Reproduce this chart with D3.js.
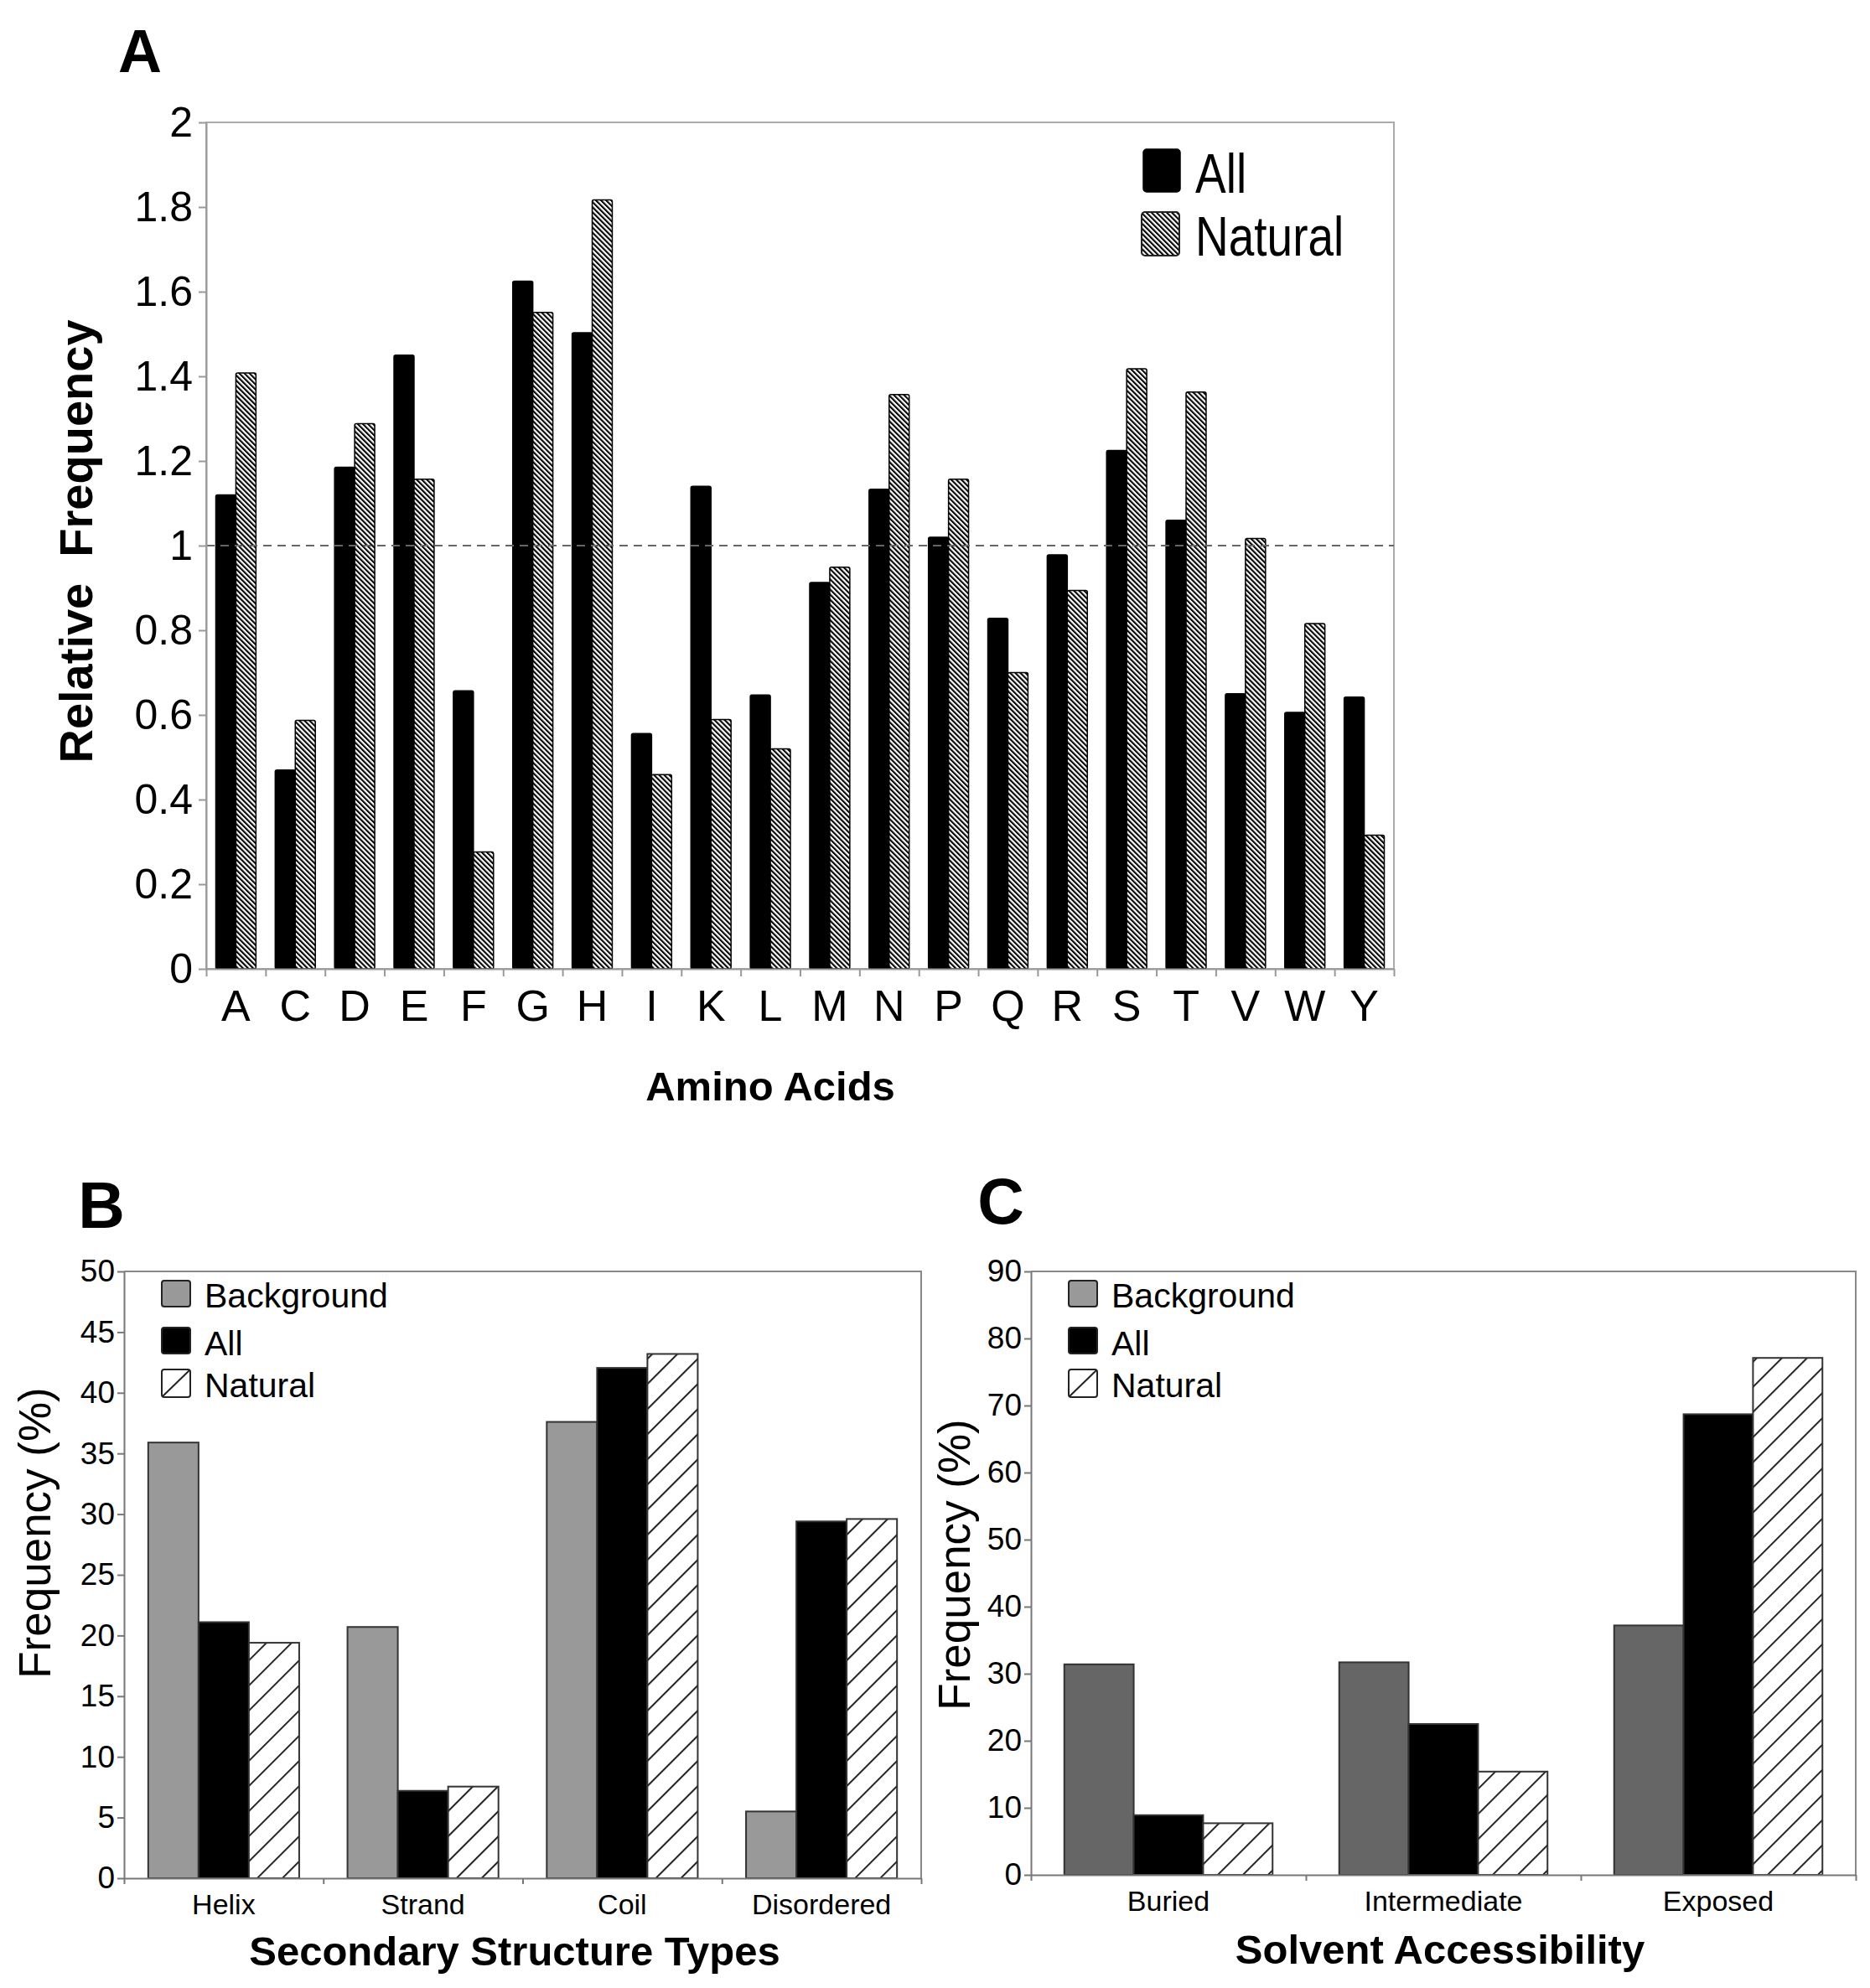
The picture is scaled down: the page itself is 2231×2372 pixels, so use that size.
<!DOCTYPE html>
<html>
<head>
<meta charset="utf-8">
<script src="https://cdn.jsdelivr.net/npm/d3@7"></script>
<style>
  body { margin: 0; background: #fff; }
  svg { display: block; font-family: "Liberation Sans", Arial, sans-serif; }
</style>
</head>
<body>
<script>
const width = 2231;
const height = 2372;

// panel A: relative frequency per amino acid
const aminoAcids = ["A", "C", "D", "E", "F", "G", "H", "I", "K", "L", "M", "N", "P", "Q", "R", "S", "T", "V", "W", "Y"];
const aaAll = [1.12, 0.47, 1.185, 1.45, 0.657, 1.625, 1.503, 0.556, 1.14, 0.647, 0.913, 1.133, 1.02, 0.828, 0.978, 1.225, 1.06, 0.65, 0.606, 0.642];
const aaNatural = [1.408, 0.587, 1.288, 1.157, 0.276, 1.551, 1.817, 0.459, 0.589, 0.52, 0.949, 1.357, 1.157, 0.7, 0.894, 1.418, 1.363, 1.017, 0.816, 0.316];
const aaTicks = [0, 0.2, 0.4, 0.6, 0.8, 1, 1.2, 1.4, 1.6, 1.8, 2];

// panel B: secondary structure types
const ssTypes = ["Helix", "Strand", "Coil", "Disordered"];
const ssBackground = [35.9, 20.7, 37.6, 5.5];
const ssAll = [21.1, 7.2, 42.05, 29.4];
const ssNatural = [19.4, 7.55, 43.2, 29.6];
const ssTicks = [0, 5, 10, 15, 20, 25, 30, 35, 40, 45, 50];

// panel C: solvent accessibility
const saTypes = ["Buried", "Intermediate", "Exposed"];
const saBackground = [31.4, 31.7, 37.2];
const saAll = [8.9, 22.5, 68.7];
const saNatural = [7.7, 15.4, 77.1];
const saTicks = [0, 10, 20, 30, 40, 50, 60, 70, 80, 90];

const svg = d3.select("body").append("svg")
    .attr("width", width)
    .attr("height", height);

svg.append("rect").attr("width", width).attr("height", height).attr("fill", "#fff");

const defs = svg.append("defs");

function hatch(id, period, lineWidth, angle, color) {
    const p = defs.append("pattern")
        .attr("id", id)
        .attr("patternUnits", "userSpaceOnUse")
        .attr("width", period)
        .attr("height", period)
        .attr("patternTransform", `rotate(${angle})`);
    p.append("rect").attr("width", period).attr("height", period).attr("fill", "#fff");
    p.append("rect").attr("width", lineWidth).attr("height", period).attr("fill", color);
}
hatch("dense", 4.3, 2.1, -45, "#000");
hatch("wide", 21.2, 2, 45, "#222");

function label(g, x, y, str, size, opts = {}) {
    let tr = `translate(${x},${y})`;
    if (opts.rotate) tr += ` rotate(${opts.rotate})`;
    if (opts.sy) tr += ` scale(1,${opts.sy})`;
    return g.append("text")
        .attr("transform", tr)
        .attr("font-size", size)
        .attr("font-weight", opts.bold ? "bold" : "normal")
        .attr("text-anchor", opts.anchor || "start")
        .attr("fill", "#000")
        .style("white-space", "pre")
        .text(str);
}

function styleAxis(g, color, fontSize) {
    g.attr("font-family", null).attr("font-size", fontSize);
    g.select(".domain").attr("stroke", color).attr("stroke-width", 2);
    g.selectAll(".tick line").attr("stroke", color).attr("stroke-width", 2);
    g.selectAll(".tick text").attr("fill", "#000");
}

// ---------------- panel A ----------------
const boxA = { left: 246, right: 1663, top: 146, bottom: 1156 };
const xA = d3.scaleBand(aminoAcids, [boxA.left, boxA.right]);
const subA = d3.scaleBand(["All", "Natural"], [0, xA.bandwidth()]).paddingOuter(0.48);
const yA = d3.scaleLinear([0, 2], [boxA.bottom, boxA.top]);
const idxA = d3.scaleLinear([0, aminoAcids.length], [boxA.left, boxA.right]);

const gA = svg.append("g");

gA.append("rect")
    .attr("x", boxA.left).attr("y", boxA.top)
    .attr("width", boxA.right - boxA.left).attr("height", boxA.bottom - boxA.top)
    .attr("fill", "none").attr("stroke", "#aaa").attr("stroke-width", 2);

const aaRows = aminoAcids.map((k, i) => ({ k, All: aaAll[i], Natural: aaNatural[i] }));

gA.append("g")
    .selectAll("g")
    .data(aaRows)
    .join("g")
    .attr("transform", d => `translate(${xA(d.k)},0)`)
    .selectAll("rect")
    .data(d => ["All", "Natural"].map(s => ({ s, v: d[s] })))
    .join("rect")
    .attr("x", d => subA(d.s))
    .attr("width", subA.bandwidth())
    .attr("y", d => yA(d.v))
    .attr("height", d => yA(0) - yA(d.v))
    .attr("rx", 2)
    .attr("fill", d => d.s === "All" ? "#000" : "url(#dense)")
    .attr("stroke", "#000")
    .attr("stroke-width", 1.5);

// reference line at 1
gA.append("line")
    .attr("x1", boxA.left).attr("x2", boxA.right)
    .attr("y1", yA(1)).attr("y2", yA(1))
    .attr("stroke", "#666").attr("stroke-width", 2)
    .attr("stroke-dasharray", "10,7");

gA.append("g")
    .attr("transform", `translate(${boxA.left},0)`)
    .call(d3.axisLeft(yA).tickValues(aaTicks).tickFormat(d3.format("~g")).tickSize(9).tickSizeOuter(0).tickPadding(7))
    .call(g => styleAxis(g, "#999", 50));

gA.append("g")
    .attr("transform", `translate(0,${boxA.bottom})`)
    .call(d3.axisBottom(idxA).tickValues(d3.range(aminoAcids.length + 1)).tickFormat("").tickSize(9).tickSizeOuter(0))
    .call(g => styleAxis(g, "#999", 50));

gA.append("g")
    .attr("transform", `translate(0,${boxA.bottom})`)
    .call(d3.axisBottom(xA).tickSize(0).tickPadding(25))
    .call(g => { styleAxis(g, "#999", 52); g.select(".domain").remove(); });

label(gA, 167, 86, "A", 72, { bold: true, anchor: "middle" });
label(gA, 110, 646, "Relative  Frequency", 56, { bold: true, anchor: "middle", rotate: -90 });
label(gA, 919, 1313, "Amino Acids", 49, { bold: true, anchor: "middle" });

// legend A
const legA = gA.append("g").attr("transform", `translate(${boxA.right - 301},${boxA.top})`);
legA.append("rect").attr("x", 2).attr("y", 32).attr("width", 44).attr("height", 51).attr("rx", 4)
    .attr("fill", "#000").attr("stroke", "#000").attr("stroke-width", 1.5);
legA.append("rect").attr("x", 0).attr("y", 107).attr("width", 45).attr("height", 52).attr("rx", 4)
    .attr("fill", "url(#dense)").attr("stroke", "#222").attr("stroke-width", 2);
label(legA, 64, 84, "All", 55, { sy: 1.2 });
label(legA, 64, 159, "Natural", 55, { sy: 1.2 });

// ---------------- panels B and C ----------------
const seriesNames = ["Background", "All", "Natural"];

function groupedPanel(cfg) {
    const { box, cats, background, all, natural, ticks, bgColor } = cfg;
    const g = svg.append("g");
    const x = d3.scaleBand(cats, [box.left, box.right]);
    const sub = d3.scaleBand(seriesNames, [0, x.bandwidth()]).paddingOuter(0.48);
    const y = d3.scaleLinear([0, ticks[ticks.length - 1]], [box.bottom, box.top]);
    const idx = d3.scaleLinear([0, cats.length], [box.left, box.right]);

    // frame top and right
    g.append("path")
        .attr("d", `M${box.left},${box.top}H${box.right}V${box.bottom}`)
        .attr("fill", "none").attr("stroke", "#888").attr("stroke-width", 2);

    const rows = cats.map((k, i) => ({ k, Background: background[i], All: all[i], Natural: natural[i] }));
    const fills = { Background: bgColor, All: "#000", Natural: "url(#wide)" };

    g.append("g")
        .selectAll("g")
        .data(rows)
        .join("g")
        .attr("transform", d => `translate(${x(d.k)},0)`)
        .selectAll("rect")
        .data(d => seriesNames.map(s => ({ s, v: d[s] })))
        .join("rect")
        .attr("x", d => sub(d.s))
        .attr("width", sub.bandwidth())
        .attr("y", d => y(d.v))
        .attr("height", d => y(0) - y(d.v))
        .attr("fill", d => fills[d.s])
        .attr("stroke", "#333")
        .attr("stroke-width", 2);

    g.append("g")
        .attr("transform", `translate(${box.left},0)`)
        .call(d3.axisLeft(y).tickValues(ticks).tickSize(8).tickSizeOuter(0).tickPadding(3))
        .call(a => styleAxis(a, "#777", 37));

    g.append("g")
        .attr("transform", `translate(0,${box.bottom})`)
        .call(d3.axisBottom(idx).tickValues(d3.range(cats.length + 1)).tickFormat("").tickSize(7).tickSizeOuter(0))
        .call(a => styleAxis(a, "#777", 33));

    g.append("g")
        .attr("transform", `translate(0,${box.bottom})`)
        .call(d3.axisBottom(x).tickSize(0).tickPadding(19))
        .call(a => { styleAxis(a, "#777", 34); a.select(".domain").remove(); });

    // legend
    const leg = g.append("g").attr("transform", `translate(${box.left + 45},${box.top})`);
    const sw = [
        { name: "Background", y: 11, h: 31, fill: "#999", base: 43 },
        { name: "All", y: 67, h: 31, fill: "#000", base: 100 },
        { name: "Natural", y: 117, h: 33, fill: "#fff", base: 150 }
    ];
    leg.selectAll("rect")
        .data(sw)
        .join("rect")
        .attr("x", 0).attr("y", d => d.y)
        .attr("width", 34).attr("height", d => d.h).attr("rx", 3)
        .attr("fill", d => d.fill).attr("stroke", "#222").attr("stroke-width", 2);
    const nat = sw[2];
    leg.append("line")
        .attr("x1", 1).attr("y1", nat.y + nat.h - 1).attr("x2", 33).attr("y2", nat.y + 1)
        .attr("stroke", "#222").attr("stroke-width", 2);
    sw.forEach(d => label(leg, 51, d.base, d.name, 41));

    label(g, cfg.letter.x, cfg.letter.y, cfg.letter.text, 77, { bold: true, anchor: "middle" });
    label(g, cfg.ytitle.x, cfg.ytitle.y, "Frequency (%)", 53, { anchor: "middle", rotate: -90 });
    label(g, cfg.xtitle.x, cfg.xtitle.y, cfg.xtitle.text, 49, { bold: true, anchor: "middle" });
}

groupedPanel({
    box: { left: 148, right: 1099, top: 1517, bottom: 2241 },
    cats: ssTypes,
    background: ssBackground,
    all: ssAll,
    natural: ssNatural,
    ticks: ssTicks,
    bgColor: "#999",
    letter: { x: 121, y: 1465, text: "B" },
    ytitle: { x: 60, y: 1829 },
    xtitle: { x: 614, y: 2345, text: "Secondary Structure Types" }
});

groupedPanel({
    box: { left: 1230, right: 2214, top: 1517, bottom: 2237 },
    cats: saTypes,
    background: saBackground,
    all: saAll,
    natural: saNatural,
    ticks: saTicks,
    bgColor: "#666",
    letter: { x: 1194, y: 1460, text: "C" },
    ytitle: { x: 1157, y: 1867 },
    xtitle: { x: 1718, y: 2343, text: "Solvent Accessibility" }
});
</script>
</body>
</html>
